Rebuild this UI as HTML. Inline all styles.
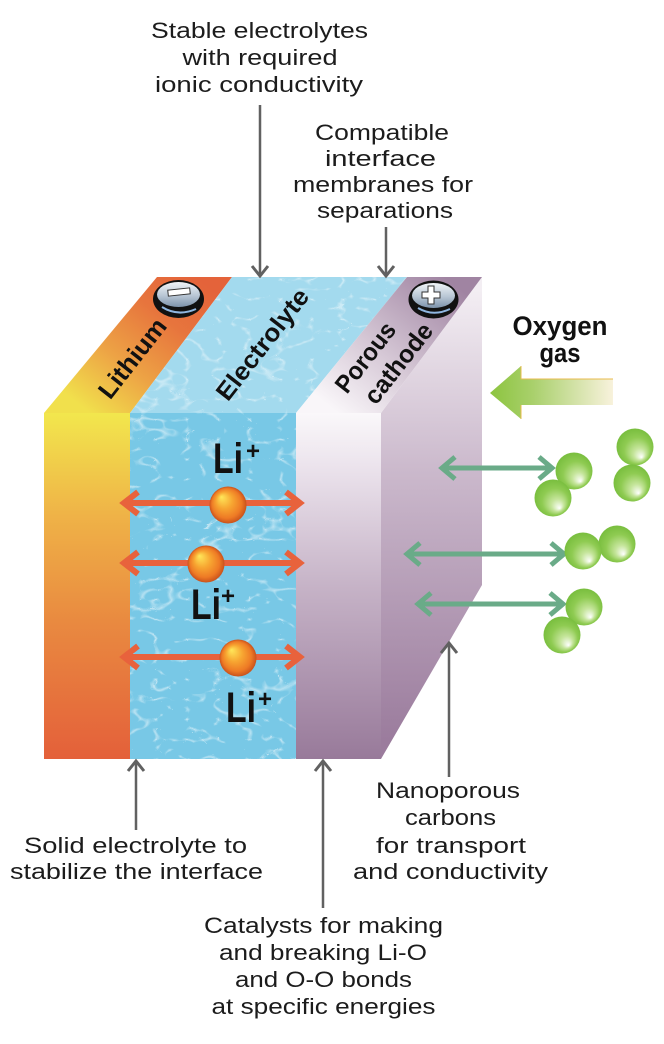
<!DOCTYPE html>
<html>
<head>
<meta charset="utf-8">
<style>
  html,body{margin:0;padding:0;background:#fff;}
  svg{display:block;}
  .t{font-family:"Liberation Sans",Arial,sans-serif;font-size:22px;fill:#1c1c1c;text-anchor:middle;}
  .b{font-family:"Liberation Sans",Arial,sans-serif;font-weight:bold;fill:#111;text-anchor:middle;}
</style>
</head>
<body>
<svg width="664" height="1044" viewBox="0 0 664 1044" xmlns="http://www.w3.org/2000/svg">
<defs>
  <linearGradient id="liFront" x1="0" y1="0" x2="0" y2="1">
    <stop offset="0" stop-color="#f2e74d"/>
    <stop offset="0.3" stop-color="#efb247"/>
    <stop offset="0.6" stop-color="#e98a40"/>
    <stop offset="1" stop-color="#e4603a"/>
  </linearGradient>
  <linearGradient id="liTop" gradientUnits="userSpaceOnUse" x1="90" y1="413" x2="195" y2="277">
    <stop offset="0" stop-color="#f1e04c"/>
    <stop offset="0.35" stop-color="#eda345"/>
    <stop offset="0.7" stop-color="#e7753d"/>
    <stop offset="1" stop-color="#e4633a"/>
  </linearGradient>
  <linearGradient id="caFront" x1="0" y1="0" x2="0" y2="1">
    <stop offset="0" stop-color="#faf8fa"/>
    <stop offset="0.15" stop-color="#ece4ed"/>
    <stop offset="0.5" stop-color="#c6b3c7"/>
    <stop offset="1" stop-color="#987a9a"/>
  </linearGradient>
  <linearGradient id="caTop" gradientUnits="userSpaceOnUse" x1="338" y1="413" x2="445" y2="277">
    <stop offset="0" stop-color="#f9f6f9"/>
    <stop offset="0.4" stop-color="#d8cbd8"/>
    <stop offset="1" stop-color="#a084a2"/>
  </linearGradient>
  <linearGradient id="side" gradientUnits="userSpaceOnUse" x1="430" y1="290" x2="430" y2="740">
    <stop offset="0" stop-color="#f3eef3"/>
    <stop offset="0.4" stop-color="#cbb9cc"/>
    <stop offset="1" stop-color="#9b7c9d"/>
  </linearGradient>
  <linearGradient id="oxy" gradientUnits="userSpaceOnUse" x1="490" y1="0" x2="613" y2="0">
    <stop offset="0" stop-color="#8cc43f"/>
    <stop offset="0.35" stop-color="#a9d06c"/>
    <stop offset="1" stop-color="#f8f2dc"/>
  </linearGradient>
  <radialGradient id="oBall" cx="0.5" cy="0.5" r="0.5" fx="0.32" fy="0.28">
    <stop offset="0" stop-color="#ffe85a"/>
    <stop offset="0.45" stop-color="#f7a531"/>
    <stop offset="0.8" stop-color="#ee7a25"/>
    <stop offset="1" stop-color="#c9521c"/>
  </radialGradient>
  <radialGradient id="gBall" cx="0.5" cy="0.5" r="0.55" fx="0.68" fy="0.78">
    <stop offset="0" stop-color="#ffffff"/>
    <stop offset="0.3" stop-color="#c5e59b"/>
    <stop offset="0.65" stop-color="#8fcb52"/>
    <stop offset="1" stop-color="#74bb3a"/>
  </radialGradient>
  <linearGradient id="btn" x1="0" y1="0" x2="0" y2="1">
    <stop offset="0" stop-color="#f0f4f8"/>
    <stop offset="0.55" stop-color="#b8c6d4"/>
    <stop offset="1" stop-color="#7d93ab"/>
  </linearGradient>
  <filter id="caustic" x="0" y="0" width="1" height="1" color-interpolation-filters="sRGB">
    <feTurbulence type="turbulence" baseFrequency="0.032 0.05" numOctaves="2" seed="5"/>
    <feColorMatrix type="matrix" values="0 0 0 0 1  0 0 0 0 1  0 0 0 0 1  -8 0 0 0 1"/>
  </filter>
  <clipPath id="cFront"><rect x="130" y="413" width="166" height="346"/></clipPath>
  <clipPath id="cTop"><polygon points="130,413 296,413 407,277 232,277"/></clipPath>
</defs>

<!-- Cube faces -->
<rect x="44" y="413" width="86" height="346" fill="url(#liFront)"/>
<g clip-path="url(#cFront)">
  <rect x="130" y="413" width="166" height="346" fill="#78c8e6"/>
  <rect x="130" y="413" width="166" height="346" fill="#fff" filter="url(#caustic)" opacity="0.5"/>
</g>
<rect x="296" y="413" width="85" height="346" fill="url(#caFront)"/>
<polygon points="381,413 482,277 482,585 381,759" fill="url(#side)"/>
<polygon points="44,413 130,413 232,277 157,277" fill="url(#liTop)"/>
<g clip-path="url(#cTop)">
  <rect x="130" y="277" width="277" height="136" fill="#a3daee"/>
  <rect x="130" y="277" width="277" height="136" fill="#fff" filter="url(#caustic)" opacity="0.45"/>
</g>
<polygon points="296,413 381,413 482,277 407,277" fill="url(#caTop)"/>

<!-- Terminal badges -->
<ellipse cx="178.5" cy="299" rx="25.5" ry="19" fill="#111"/>
<path d="M162,307 Q178,317 196,309" stroke="#8fb6e0" stroke-width="2" fill="none"/>
<ellipse cx="178.5" cy="294.5" rx="21.5" ry="12.5" fill="url(#btn)"/>
<rect x="168" y="289" width="22" height="6" fill="#fff" stroke="#333" stroke-width="1" transform="rotate(-6 179 292)"/>

<ellipse cx="433.5" cy="299.5" rx="25" ry="19" fill="#111"/>
<path d="M418,308 Q433,317 450,309" stroke="#8fb6e0" stroke-width="2" fill="none"/>
<ellipse cx="433.5" cy="295.5" rx="21.5" ry="12.5" fill="url(#btn)"/>
<path d="M428,286 h6 v6 h6 v6 h-6 v6 h-6 v-6 h-6 v-6 h6 z" fill="#fff" stroke="#333" stroke-width="1"/>

<!-- Rotated face labels -->
<text class="b" font-size="25" transform="translate(132,358) rotate(-52)" y="9" textLength="94" lengthAdjust="spacingAndGlyphs">Lithium</text>
<text class="b" font-size="25" transform="translate(262,344) rotate(-52)" y="9" textLength="134" lengthAdjust="spacingAndGlyphs">Electrolyte</text>
<text class="b" font-size="25" transform="translate(365,357) rotate(-52)" y="9" textLength="82" lengthAdjust="spacingAndGlyphs">Porous</text>
<text class="b" font-size="25" transform="translate(398,363) rotate(-52)" y="9" textLength="95" lengthAdjust="spacingAndGlyphs">cathode</text>

<!-- Red Li+ arrows -->
<g stroke="#e8623c" stroke-width="6" fill="none" stroke-linejoin="miter">
  <line x1="124" y1="503" x2="300" y2="503"/>
  <polyline points="138,492 124,503 138,514"/>
  <polyline points="286,492 300,503 286,514"/>
  <line x1="124" y1="563" x2="300" y2="563"/>
  <polyline points="138,552 124,563 138,574"/>
  <polyline points="286,552 300,563 286,574"/>
  <line x1="124" y1="657" x2="300" y2="657"/>
  <polyline points="138,646 124,657 138,668"/>
  <polyline points="286,646 300,657 286,668"/>
</g>
<circle cx="228" cy="505" r="18.5" fill="url(#oBall)"/>
<circle cx="206" cy="564" r="18.5" fill="url(#oBall)"/>
<circle cx="238" cy="658" r="18.5" fill="url(#oBall)"/>

<!-- Li+ labels -->
<text class="b" font-size="43" x="228" y="473" textLength="30" lengthAdjust="spacingAndGlyphs">Li</text>
<text class="b" font-size="24" x="253" y="459">+</text>
<text class="b" font-size="43" x="206" y="619" textLength="30" lengthAdjust="spacingAndGlyphs">Li</text>
<text class="b" font-size="24" x="228" y="604">+</text>
<text class="b" font-size="43" x="241" y="722" textLength="30" lengthAdjust="spacingAndGlyphs">Li</text>
<text class="b" font-size="24" x="265" y="707">+</text>

<!-- Oxygen arrow -->
<polygon points="490,393 521,366 521,379 613,379 613,405 521,405 521,419" fill="url(#oxy)"/>
<polyline points="521,366 521,379 613,379" stroke="#e9bb4c" stroke-width="1" fill="none"/>
<line x1="521" y1="405" x2="521" y2="419" stroke="#e9bb4c" stroke-width="1"/>
<text class="b" font-size="27" x="560" y="335" textLength="95" lengthAdjust="spacingAndGlyphs">Oxygen</text>
<text class="b" font-size="27" x="560" y="362" textLength="41" lengthAdjust="spacingAndGlyphs">gas</text>

<!-- Green arrows -->
<g stroke="#6aab88" stroke-width="5" fill="none" stroke-linejoin="miter">
  <line x1="442" y1="468" x2="552" y2="468"/>
  <polyline points="455,457 442,468 455,479"/>
  <polyline points="539,457 552,468 539,479"/>
  <line x1="407" y1="554" x2="564" y2="554"/>
  <polyline points="420,543 407,554 420,565"/>
  <polyline points="551,543 564,554 551,565"/>
  <line x1="418" y1="604" x2="563" y2="604"/>
  <polyline points="431,593 418,604 431,615"/>
  <polyline points="550,593 563,604 550,615"/>
</g>

<!-- Green O2 balls -->
<circle cx="574" cy="471" r="18.5" fill="url(#gBall)"/>
<circle cx="553" cy="498" r="18.5" fill="url(#gBall)"/>
<circle cx="635" cy="447" r="18.5" fill="url(#gBall)"/>
<circle cx="632" cy="483" r="18.5" fill="url(#gBall)"/>
<circle cx="617" cy="544" r="18.5" fill="url(#gBall)"/>
<circle cx="583" cy="551" r="18.5" fill="url(#gBall)"/>
<circle cx="584" cy="607" r="18.5" fill="url(#gBall)"/>
<circle cx="562" cy="635" r="18.5" fill="url(#gBall)"/>

<!-- Gray pointer arrows -->
<g stroke="#616161" stroke-width="2.5" fill="none">
  <line x1="260" y1="105" x2="260" y2="276"/>
  <polyline points="252,266 260,276 268,266" stroke-width="3"/>
  <line x1="386" y1="227" x2="386" y2="276"/>
  <polyline points="378,266 386,276 394,266" stroke-width="3"/>
  <line x1="136" y1="761" x2="136" y2="830"/>
  <polyline points="128,771 136,761 144,771" stroke-width="3"/>
  <line x1="323" y1="761" x2="323" y2="908"/>
  <polyline points="315,771 323,761 331,771" stroke-width="3"/>
  <line x1="449" y1="643" x2="449" y2="777"/>
  <polyline points="441,653 449,643 457,653" stroke-width="3"/>
</g>

<!-- Top labels -->
<text class="t" x="259.5" y="38" textLength="217" lengthAdjust="spacingAndGlyphs">Stable electrolytes</text>
<text class="t" x="260" y="65" textLength="155" lengthAdjust="spacingAndGlyphs">with required</text>
<text class="t" x="259" y="92" textLength="208" lengthAdjust="spacingAndGlyphs">ionic conductivity</text>

<text class="t" x="382" y="140" textLength="134" lengthAdjust="spacingAndGlyphs">Compatible</text>
<text class="t" x="380.5" y="166" textLength="111" lengthAdjust="spacingAndGlyphs">interface</text>
<text class="t" x="383" y="192" textLength="180" lengthAdjust="spacingAndGlyphs">membranes for</text>
<text class="t" x="385" y="218" textLength="136" lengthAdjust="spacingAndGlyphs">separations</text>

<!-- Bottom labels -->
<text class="t" x="448" y="798" textLength="144" lengthAdjust="spacingAndGlyphs">Nanoporous</text>
<text class="t" x="450.5" y="825" textLength="91" lengthAdjust="spacingAndGlyphs">carbons</text>
<text class="t" x="451" y="853" textLength="150" lengthAdjust="spacingAndGlyphs">for transport</text>
<text class="t" x="450.5" y="879" textLength="195" lengthAdjust="spacingAndGlyphs">and conductivity</text>

<text class="t" x="135.5" y="853" textLength="223" lengthAdjust="spacingAndGlyphs">Solid electrolyte to</text>
<text class="t" x="136.5" y="879" textLength="253" lengthAdjust="spacingAndGlyphs">stabilize the interface</text>

<text class="t" x="323.5" y="933" textLength="239" lengthAdjust="spacingAndGlyphs">Catalysts for making</text>
<text class="t" x="323" y="960" textLength="208" lengthAdjust="spacingAndGlyphs">and breaking Li-O</text>
<text class="t" x="323.5" y="987" textLength="177" lengthAdjust="spacingAndGlyphs">and O-O bonds</text>
<text class="t" x="323.5" y="1014" textLength="224" lengthAdjust="spacingAndGlyphs">at specific energies</text>
</svg>
</body>
</html>
